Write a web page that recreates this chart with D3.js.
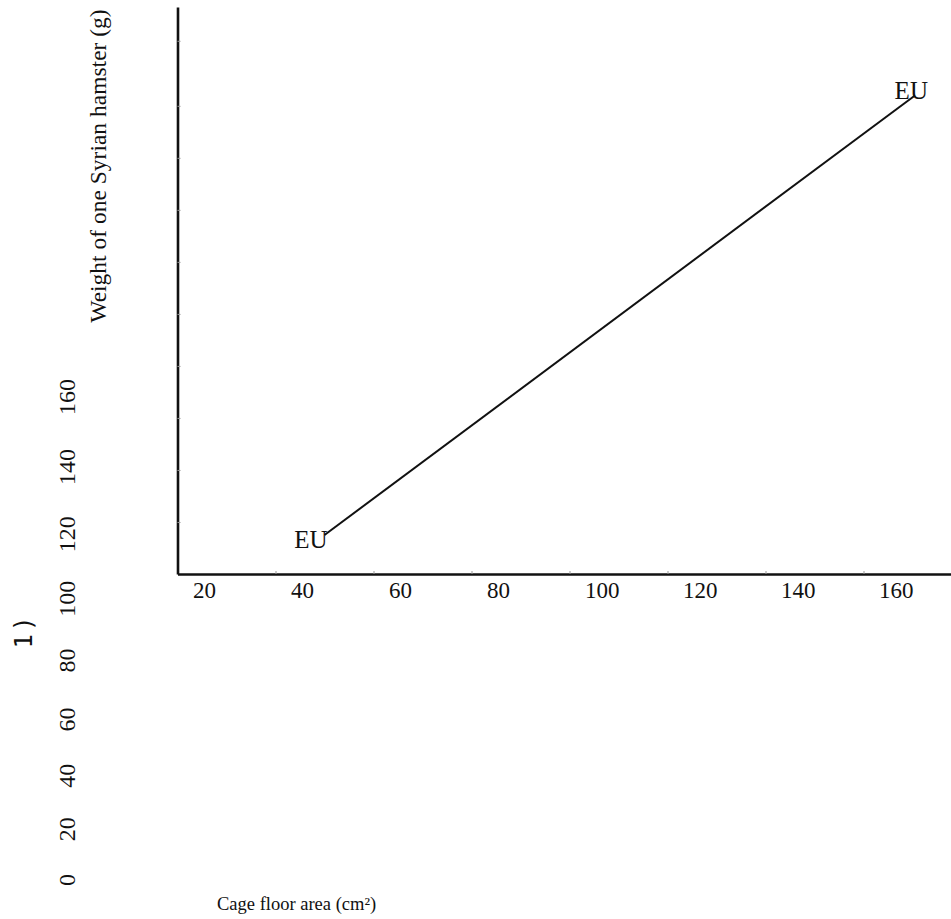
<!DOCTYPE html>
<html><head><meta charset="utf-8">
<script src="https://cdn.jsdelivr.net/npm/d3@7"></script>
<style>
html,body{margin:0;padding:0;background:#fff;}
text{font-family:"Liberation Serif","DejaVu Serif",serif;fill:#111;}
</style></head>
<body><svg id="c" width="951" height="919"></svg>
<script>
// ---- data ----
const xTickValues = [20, 40, 60, 80, 100, 120, 140, 160];
const yTickValues = [20, 40, 60, 80, 100, 120, 140, 160, 180, 205];
const yLabelValues = [0, 20, 40, 60, 80, 100, 120, 140, 160];
const seriesX = [50, 170.5];
const seriesY = [15, 184];
const pointLabels = ["EU", "EU"];
const xTitle = "Cage floor area (cm²)";
const yTitle = "Weight of one Syrian hamster (g)";
const strayText = "1)";

const svg = d3.select("#c");
const x = d3.scaleLinear().domain([20, 178]).range([177.5, 951.7]);
const y = d3.scaleLinear().domain([0, 218]).range([574, 7]);

// Left detached label column (warped positions)
const warp = v => v * (1 + v / 720);
const yl = d3.scaleLinear().domain([0, warp(160)]).range([880, 397]);

// x axis
const gx = svg.append("g").attr("transform", `translate(0,${y(0)})`)
  .call(d3.axisBottom(x).tickValues(xTickValues).tickSize(-3).tickSizeOuter(0).tickFormat(d3.format("d")));
gx.select(".domain").attr("stroke", "#111").attr("stroke-width", 2.6);
gx.selectAll(".tick line").attr("stroke", "#999").attr("stroke-width", 1);
gx.selectAll(".tick text").attr("text-anchor", "start").attr("dx", 15).attr("y", 24).attr("dy", 0)
  .style("font-size", "23px").style("font-family", "Liberation Serif, serif").attr("fill", "#111");

// y axis (no labels)
const gy = svg.append("g").attr("transform", `translate(${x(20)},0)`)
  .call(d3.axisLeft(y).tickValues(yTickValues).tickSize(-3).tickSizeOuter(0).tickFormat(""));
gy.select(".domain").attr("stroke", "#111").attr("stroke-width", 2.6);
gy.selectAll(".tick line").attr("stroke", "#999").attr("stroke-width", 1);

// detached y tick labels
svg.append("g").selectAll("text").data(yLabelValues).join("text")
  .attr("transform", d => `translate(75,${yl(warp(d))}) rotate(-90)`)
  .attr("text-anchor", "middle")
  .style("font-size", "24px")
  .text(d => d);

// stray text
svg.append("text").attr("transform", "translate(32,631) rotate(-90)")
  .attr("text-anchor", "middle")
  .style("font-family", "DejaVu Sans Mono, monospace").style("font-size", "24px")
  .style("letter-spacing", "3px")
  .text(strayText);

// line
const pts = seriesX.map((d, i) => [d, seriesY[i]]);
svg.append("path").datum(pts)
  .attr("d", d3.line().x(d => x(d[0])).y(d => y(d[1])))
  .attr("fill", "none").attr("stroke", "#111").attr("stroke-width", 2);

// point labels
svg.append("g").selectAll("text").data(pts).join("text")
  .attr("x", (d, i) => x(d[0]) + (i === 0 ? 3 : 13))
  .attr("y", (d, i) => y(d[1]) + (i === 0 ? 13 : 4))
  .attr("text-anchor", "end")
  .style("font-size", "25px")
  .text((d, i) => pointLabels[i]);

// titles
svg.append("text").attr("x", 217).attr("y", 910).style("font-size", "18.5px").text(xTitle);
svg.append("text").attr("transform", "translate(106,166) rotate(-90)")
  .attr("text-anchor", "middle").style("font-size", "23.5px").text(yTitle);
</script></body></html>
